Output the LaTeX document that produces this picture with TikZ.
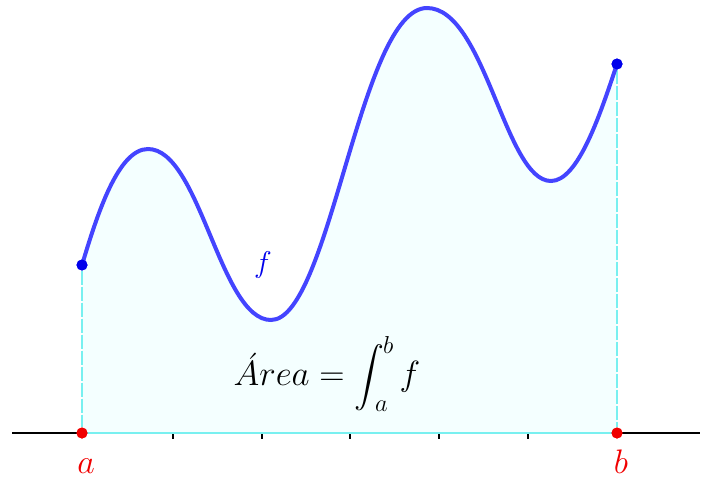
\documentclass[tikz,border=0pt]{standalone}
\usepackage{fix-cm}
\usepackage{amsmath}
\usepackage{graphicx}
\definecolor{curveblue}{RGB}{68,68,255}
\definecolor{ptblue}{RGB}{0,0,235}
\definecolor{ptred}{RGB}{240,0,0}
\definecolor{areafill}{RGB}{244,255,255}
\definecolor{edgecyan}{RGB}{120,240,240}
\newcommand{\bigintsign}{\mathop{\vcenter{\hbox{\scalebox{1.2}{$\displaystyle\int$}}}}\nolimits}
\tikzset{
  curvestyle/.style={draw=curveblue,line width=4pt},
  bluept/.style={circle,fill=ptblue,inner sep=0pt,minimum size=11pt},
  redpt/.style={circle,fill=ptred,inner sep=0pt,minimum size=11pt},
  edgeline/.style={draw=edgecyan,line width=1.8pt,dash pattern=on 14pt off 2pt},
  axisline/.style={draw=black,line width=1.3pt},
  tickline/.style={draw=black,line width=1.2pt},
  redlabel/.style={text=ptred,font=\fontsize{34}{40}\selectfont,inner sep=0pt},
}
\begin{document}
\begin{tikzpicture}[x=1pt,y=-1pt]
\useasboundingbox (0,0) rectangle (701,483);
\def\curvepath{(82,265) .. controls (97,215) and (118,149) .. (148,149)
  .. controls (200,149) and (220,320) .. (271,320)
  .. controls (330,320) and (360,8) .. (427,8)
  .. controls (485,8) and (505,181) .. (551,181)
  .. controls (578,181) and (600,115) .. (617,64)}
\fill[areafill] (82,433) -- \curvepath -- (617,433) -- cycle;
% axis
\coordinate (axL) at (12,433);
\coordinate (axR) at (700,433);
\draw[axisline] (axL) -- (axR);
\foreach \x in {173,262,350,439,528} {\draw[tickline] (\x,433) -- (\x,439);}
\draw[edgecyan,line width=1.2pt] (82,433) -- (617,433);
% points
\node[bluept] (fa) at (82,265) {};
\node[bluept] (fb) at (617,64) {};
\node[redpt] (a) at (82,433) {};
\node[redpt] (b) at (617,433) {};
\draw[edgeline] (fa) -- (a);
\draw[edgeline] (fb) -- (b);
\draw[curvestyle] \curvepath;
\node[bluept] at (82,265) {};
\node[bluept] at (617,64) {};
\node[redpt] at (82,433) {};
\node[redpt] at (617,433) {};
% labels
\node[redlabel] (la) at (86,466) {$a$};
\node[redlabel] (lb) at (621,462) {$b$};
\node[text=ptblue,font=\fontsize{30}{36}\selectfont,inner sep=0pt] (lf) at (263,265) {$f$};
\node[font=\fontsize{35}{42}\selectfont,inner sep=0pt] (formula) at (327,374) {$\acute{A}rea=\bigintsign_{\kern-9pt a}^{\kern-1pt b} f$};
\end{tikzpicture}
\end{document}
